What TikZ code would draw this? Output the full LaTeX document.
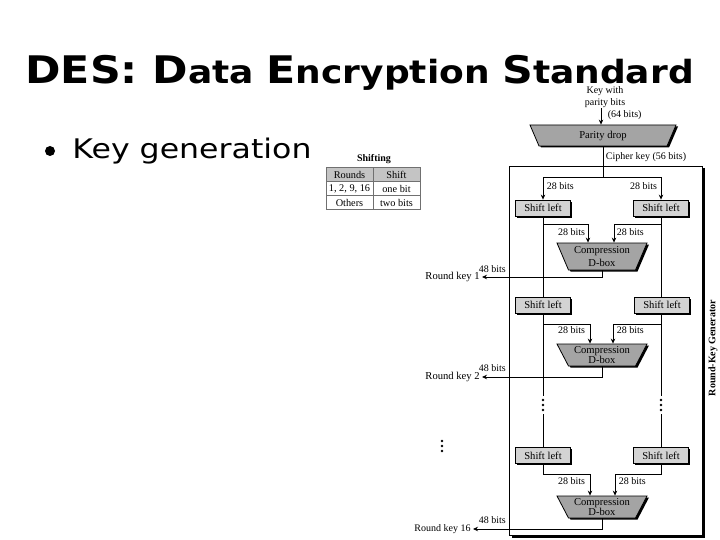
\documentclass[tikz,border=0pt]{standalone}
\usepackage{fontspec}
\setmainfont{Liberation Serif}
\newfontfamily\slidefont{DejaVu Sans}
\usetikzlibrary{arrows.meta}
\definecolor{shiftgray}{HTML}{D3D3D3}
\definecolor{dboxgray}{HTML}{A4A4A4}
\definecolor{hdrgray}{HTML}{C4C4C4}
\definecolor{tabline}{HTML}{707070}
\tikzset{
  lbl/.style={font=\fontsize{10}{12.5}\selectfont, inner sep=0.5pt},
  rklbl/.style={font=\fontsize{10.6}{12}\selectfont, inner sep=2pt, anchor=east},
  arr/.style={-{Stealth[length=5pt,width=4.5pt]}},
  shiftbox/.style={draw, fill=shiftgray, minimum width=55, minimum height=16, inner sep=0,
    font=\fontsize{10.6}{11}\selectfont,
    preaction={fill=black, transform canvas={xshift=1.6pt,yshift=-1.6pt}}},
  boxlbl/.style={minimum width=90, inner sep=0, align=center, font=\fontsize{10.6}{11.5}\selectfont},
  cell/.style={draw=tabline, line width=0.6pt, minimum width=47, minimum height=14, inner sep=0,
    font=\fontsize{10.3}{10}\selectfont},
  pics/trap/.style n args={4}{code={
    \fill[black] (-#1+2,-#3+1.5) -- (#1+2,-#3+1.5) -- (#2+2,#3+1.5) -- (-#2+2,#3+1.5) -- cycle;
    \filldraw[fill=#4] (-#1,-#3) -- (#1,-#3) -- (#2,#3) -- (-#2,#3) -- cycle;}}
}
\begin{document}
\begin{tikzpicture}[x=1pt,y=-1pt, line width=0.8pt]
\useasboundingbox (0,0) rectangle (720,540);

% title and bullet
\node[anchor=base west, inner sep=0] (title) at (25,84)
  {\scalebox{1.125}[1]{\slidefont\bfseries\fontsize{38}{40}\selectfont DES: D{\fontsize{32}{34}\selectfont ata }E{\fontsize{32}{34}\selectfont ncryption }S{\fontsize{32}{34}\selectfont tandard}}};
\node[circle, fill, inner sep=0, minimum size=10] (bul) at (50,151) {};
\node[anchor=base west, inner sep=0] (kg) at (72,159)
  {\scalebox{1.17}[1]{\slidefont\fontsize{27}{30}\selectfont Key generation}};

% shifting table
\node[font=\bfseries\fontsize{10}{10}\selectfont] (shifting) at (374,159) {Shifting};
\node[cell, fill=hdrgray] (c11) at (349.5,174.5) {Rounds};
\node[cell, fill=hdrgray] (c12) at (396.5,174.5) {Shift};
\node[cell] (c21) at (349.5,188.5) {1, 2, 9, 16};
\node[cell] (c22) at (396.5,188.5) {one bit};
\node[cell] (c31) at (349.5,202.5) {Others};
\node[cell] (c32) at (396.5,202.5) {two bits};

% generator frame
\node[draw, fill=white, minimum width=193, minimum height=369, inner sep=0,
  preaction={fill=black, transform canvas={xshift=2.5pt,yshift=-2.5pt}}] (gen) at (605.5,350.5) {};
\node[rotate=90, font=\bfseries\fontsize{10}{11}\selectfont] (rkg) at (713,348) {Round-Key Generator};

% parity drop
\pic at (603,135.5) {trap={73}{64}{10.5}{dboxgray}};
\node[boxlbl, minimum width=146, minimum height=21] (pd) at (603,135.5) {Parity drop};
\node[lbl, align=center, inner sep=0pt] (kw) at (605,97) {Key with\\parity bits};
\draw[arr] ([xshift=-4pt]kw.south) -- ([xshift=-2pt]pd.north);
\node[lbl, anchor=west] (b64) at (607,115) {(64 bits)};
\node[lbl, anchor=west] (ck) at (605,157) {Cipher key (56 bits)};
\coordinate (split) at (603,177);
\draw (pd.south) -- (split);

% row 1
\node[shiftbox] (s1L) at (543,208) {Shift left};
\node[shiftbox] (s1R) at (661,208) {Shift left};
\draw[arr] (split) -| (s1L.north);
\draw[arr] (split) -| (s1R.north);
\node[lbl, anchor=west] (t1a) at (546,186) {28 bits};
\node[lbl, anchor=east] (t1b) at (658,186) {28 bits};

\pic at (602,256.5) {trap={45}{33.5}{13.5}{dboxgray}};
\node[boxlbl, minimum height=27, font=\fontsize{10.6}{12.5}\selectfont] (d1) at (602,256.5) {Compression\\D-box};
\draw[arr] (s1L.south) -- ++(0,8) -| ([xshift=-14pt]d1.north);
\draw[arr] (s1R.south) -- ++(0,8) -| ([xshift=12pt]d1.north);
\node[lbl, anchor=east] (t2a) at (586,232) {28 bits};
\node[lbl, anchor=west] (t2b) at (616,232) {28 bits};
\node[rklbl] (rk1) at (482,277) {Round key 1};
\draw[arr] (d1.south) |- (rk1.east);
\node[lbl, anchor=west] (k1) at (478,269) {48 bits};

% row 2
\node[shiftbox] (s2L) at (543,305) {Shift left};
\node[shiftbox] (s2R) at (662,305) {Shift left};
\draw (s1L.south) -- (s2L.north);
\draw (s1R.south) -- (s1R.south |- s2R.north);
\pic at (602,355) {trap={45}{33.5}{11}{dboxgray}};
\node[boxlbl, minimum height=22, font=\fontsize{10.6}{10.5}\selectfont] (d2) at (602,355) {Compression\\D-box};
\draw[arr] (s2L.south) -- ++(0,11) -| ([xshift=-12pt]d2.north);
\draw[arr] (s2R.south -| s1R.south) -- ++(0,11) -| ([xshift=11pt]d2.north);
\node[lbl, anchor=east] (t3a) at (586,330) {28 bits};
\node[lbl, anchor=west] (t3b) at (616,330) {28 bits};
\node[rklbl] (rk2) at (482,377) {Round key 2};
\draw[arr] (d2.south) |- (rk2.east);
\node[lbl, anchor=west] (k2) at (478,368) {48 bits};

% dots
\node[minimum width=4, minimum height=18, inner sep=0] (vdL) at (543,405) {};
\node[minimum width=4, minimum height=18, inner sep=0] (vdR) at (661,405) {};
\node[minimum width=4, minimum height=18, inner sep=0] (vdK) at (442,446) {};
\foreach \n in {vdL,vdR,vdK} \foreach \d in {-5,0,5} \fill (\n.center) ++(0,\d) circle (1.3);

% row 3
\node[shiftbox] (s3L) at (543,455.5) {Shift left};
\node[shiftbox] (s3R) at (661,455.5) {Shift left};
\draw (s2L.south) -- (vdL.north);
\draw (vdL.south) -- (s3L.north);
\draw (s2R.south -| vdR.north) -- (vdR.north);
\draw (vdR.south) -- (s3R.north);
\pic at (602,507) {trap={45}{33.5}{11}{dboxgray}};
\node[boxlbl, minimum height=22, font=\fontsize{10.6}{10.5}\selectfont] (d3) at (602,507) {Compression\\D-box};
\draw[arr] (s3L.south) -- ++(0,10.5) -| ([xshift=-12pt]d3.north);
\draw[arr] (s3R.south) -- ++(0,10.5) -| ([xshift=13pt]d3.north);
\node[lbl, anchor=east] (t4a) at (586,481) {28 bits};
\node[lbl, anchor=west] (t4b) at (618,481) {28 bits};
\node[rklbl, font=\fontsize{10}{12}\selectfont] (rk3) at (473,529) {Round key 16};
\draw[arr] (d3.south) |- (rk3.east);
\node[lbl, anchor=west] (k3) at (478,520) {48 bits};
\end{tikzpicture}
\end{document}
